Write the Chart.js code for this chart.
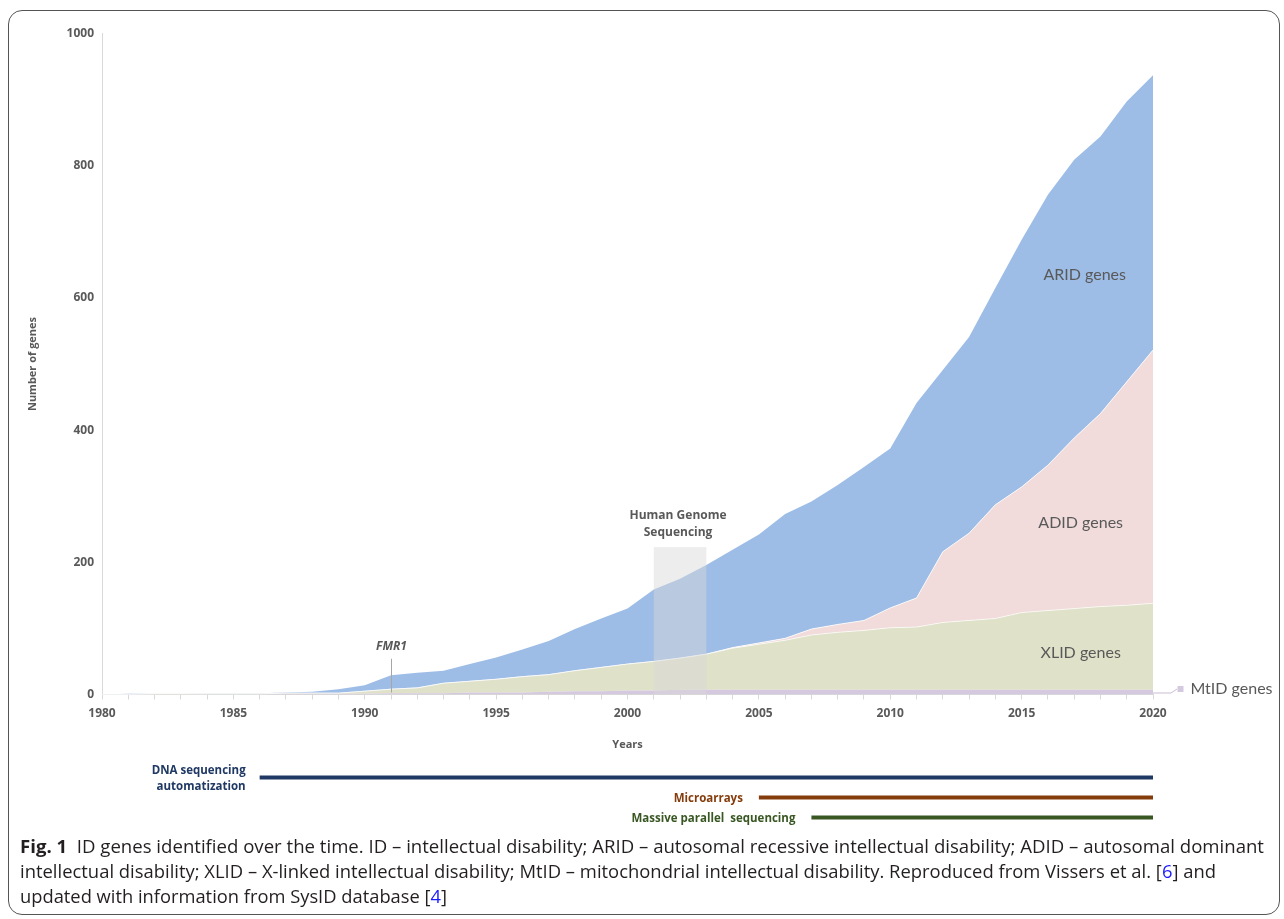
<!DOCTYPE html>
<html>
<head>
<meta charset="utf-8">
<script src="https://cdn.jsdelivr.net/npm/chart.js@4/dist/chart.umd.min.js"></script>
<style>
  html, body { margin: 0; padding: 0; background: #fff; overflow: hidden; }
  #wrap { position: relative; width: 1284px; height: 919px; }
  #frame { position: absolute; left: 8px; top: 10px; width: 1272px; height: 905px; border: 1.5px solid #555;
           border-radius: 14px; box-sizing: border-box; pointer-events: none; }
  canvas { position: absolute; left: 0; top: 0; }
</style>
</head>
<body>
<div id="wrap">
  <div id="frame"></div>
  <canvas id="c" width="1284" height="919"></canvas>
</div>
<script>
// Number of intellectual-disability genes known per year, by inheritance class
const years = [1980, 1981, 1982, 1983, 1984, 1985, 1986, 1987, 1988, 1989,
               1990, 1991, 1992, 1993, 1994, 1995, 1996, 1997, 1998, 1999,
               2000, 2001, 2002, 2003, 2004, 2005, 2006, 2007, 2008, 2009,
               2010, 2011, 2012, 2013, 2014, 2015, 2016, 2017, 2018, 2019, 2020];
const mtidGenes = [0, 0, 0, 0, 0, 0, 0, 1, 1, 1,
                   1, 2, 2, 2, 3, 3, 3, 4, 5, 5,
                   6, 6, 7, 7, 7, 7, 7, 7, 7, 7,
                   7, 7, 7, 7, 7, 7, 7, 7, 7, 7, 7];
const xlidGenes = [0, 0, 1, 1, 1, 1, 1, 1, 1, 1,
                   4, 6, 8, 15, 17, 20, 24, 26, 31, 36,
                   40, 44, 48, 54, 63, 69, 75, 83, 87, 90,
                   94, 95, 102, 105, 108, 117, 120, 123, 126, 128, 131];
const adidGenes = [0, 0, 0, 0, 0, 0, 0, 0, 0, 0,
                   0, 0, 0, 0, 0, 0, 0, 0, 0, 0,
                   0, 0, 0, 0, 1, 2, 3, 9, 12, 15,
                   30, 44, 107, 132, 172, 190, 220, 258, 292, 338, 383];
const aridGenes = [0, 1, 0, 0, 1, 1, 1, 1, 2, 6,
                   9, 21, 23, 19, 26, 33, 41, 51, 63, 74,
                   84, 109, 120, 135, 148, 164, 188, 193, 211, 232,
                   241, 295, 275, 297, 328, 374, 409, 421, 419, 424, 416];

// Genome project window and landmark gene
const genomeYears = [2001, 2003];
const genomeLevel = 223;
const fmr1Year = 1991;

// Technology eras shown under the time axis
const techLabels = [['DNA sequencing', 'automatization'], ['Microarrays'], ['Massive parallel  sequencing']];
const techStart = [1986, 2005, 2007];
const techEnd = [2020, 2020, 2020];

const GREY = '#595959';
const FONT = '"Open Sans", sans-serif';

const idx = yr => yr - years[0];

const overlay = {
  id: 'overlay',
  afterDatasetsDraw(chart) {
    const { ctx } = chart;
    const xs = chart.scales.x, ys = chart.scales.y;
    ctx.save();

    // Human genome sequencing window
    const gx0 = xs.getPixelForValue(idx(genomeYears[0]));
    const gx1 = xs.getPixelForValue(idx(genomeYears[1]));
    const gy0 = ys.getPixelForValue(genomeLevel);
    const gy1 = ys.getPixelForValue(0);
    ctx.fillStyle = 'rgba(217,217,217,0.47)';
    ctx.fillRect(gx0, gy0, gx1 - gx0, gy1 - gy0);
    ctx.fillStyle = GREY;
    ctx.font = 'bold 12px ' + FONT;
    ctx.textAlign = 'center';
    ctx.textBaseline = 'middle';
    const gc = (gx0 + gx1) / 2 - 2;
    ctx.fillText('Human Genome', gc, gy0 - 32);
    ctx.fillText('Sequencing', gc, gy0 - 15);

    // FMR1 marker
    const fx = Math.round(xs.getPixelForValue(idx(fmr1Year))) + 0.5;
    const fTop = ys.getPixelForValue(54);
    ctx.strokeStyle = '#a6a6a6';
    ctx.lineWidth = 1;
    ctx.beginPath();
    ctx.moveTo(fx, fTop);
    ctx.lineTo(fx, ys.getPixelForValue(0) - 2);
    ctx.stroke();
    ctx.font = 'italic bold 12px ' + FONT;
    ctx.fillStyle = GREY;
    ctx.fillText('FMR1', fx, fTop - 12);

    // Series names inside the areas
    ctx.font = '16px Lato, sans-serif';
    ctx.fillStyle = GREY;
    const lx = xs.getPixelForValue(idx(2017) + 0.4);
    ctx.fillText('ARID genes', lx, ys.getPixelForValue(635));
    ctx.fillText('ADID genes', lx - 4, ys.getPixelForValue(259));
    ctx.fillText('XLID genes', lx - 4, ys.getPixelForValue(63));

    // MtID label with leader line
    const last = years.length - 1;
    const xr = xs.getPixelForValue(last);
    const yb = ys.getPixelForValue(0) - 1.5;
    ctx.strokeStyle = '#c9bdd4';
    ctx.beginPath();
    ctx.moveTo(xr, yb);
    ctx.lineTo(xr + 18, yb);
    ctx.lineTo(xr + 24, yb - 4);
    ctx.stroke();
    ctx.fillStyle = '#d5c9df';
    ctx.fillRect(xr + 24.5, yb - 7, 6, 6);
    ctx.fillStyle = GREY;
    ctx.textAlign = 'left';
    ctx.fillText('MtID genes', xr + 37.5, yb - 4);

    // Technology eras
    const techColors = ['#1f3864', '#843c0c', '#385723'];
    const techY = [777.5, 797.5, 817.5];
    ctx.font = 'bold 11.5px ' + FONT;
    ctx.textAlign = 'right';
    techLabels.forEach((lab, i) => {
      const x0 = xs.getPixelForValue(idx(techStart[i]));
      const x1 = xs.getPixelForValue(idx(techEnd[i]));
      ctx.strokeStyle = techColors[i];
      ctx.lineWidth = 4;
      ctx.beginPath();
      ctx.moveTo(x0, techY[i]);
      ctx.lineTo(x1, techY[i]);
      ctx.stroke();
      ctx.fillStyle = techColors[i];
      if (lab.length === 2) {
        ctx.fillText(lab[0], x0 - 14, techY[i] - 7);
        ctx.fillText(lab[1], x0 - 14, techY[i] + 9);
      } else {
        ctx.fillText(lab[0], x0 - 16, techY[i] + 1);
      }
    });

    // Figure caption (each line set to its own measure)
    const body = '#231f20', link = '#1a1aff';
    const caption = [
      [{ t: 'Fig. 1', b: true }, { t: '  ID genes identified over the time. ID \u2013 intellectual disability; ARID \u2013 autosomal recessive intellectual disability; ADID \u2013 autosomal dominant' }],
      [{ t: 'intellectual disability; XLID \u2013 X-linked intellectual disability; MtID \u2013 mitochondrial intellectual disability. Reproduced from Vissers et al. [' }, { t: '6', c: link }, { t: '] and' }],
      [{ t: 'updated with information from SysID database [' }, { t: '4', c: link }, { t: ']' }]
    ];
    const lineEnds = [1264, 1216, 447];
    const segW = g => { ctx.font = (g.b ? 'bold ' : '') + '18px ' + FONT; return ctx.measureText(g.t).width; };
    ctx.textBaseline = 'alphabetic';
    ctx.textAlign = 'left';
    caption.forEach((line, i) => {
      const natural = line.reduce((s, g) => s + segW(g), 0);
      const sx = (lineEnds[i] - 20) / natural;
      ctx.save();
      ctx.translate(20, 853 + 25 * i);
      ctx.scale(sx, 1);
      let x = 0;
      line.forEach(g => {
        const w = segW(g);
        ctx.fillStyle = g.c || body;
        ctx.fillText(g.t, x, 0);
        x += w;
      });
      ctx.restore();
    });

    ctx.restore();
  }
};

const area = (label, data, color, fill, border) => ({
  label, data, backgroundColor: color, fill,
  borderColor: border || 'rgba(0,0,0,0)', borderWidth: border ? 1 : 0,
  pointRadius: 0, tension: 0
});

new Chart(document.getElementById('c').getContext('2d'), {
  type: 'line',
  data: {
    labels: years,
    datasets: [
      area('MtID genes', mtidGenes, '#d5c9df', 'origin'),
      area('XLID genes', xlidGenes, '#dfe1c8', '-1', 'rgba(255,255,255,0.7)'),
      area('ADID genes', adidGenes, '#f1dbdb', '-1', 'rgba(255,255,255,0.8)'),
      area('ARID genes', aridGenes, '#9dbde6', '-1')
    ]
  },
  options: {
    responsive: false,
    animation: false,
    layout: { padding: { left: 0, right: 131, top: 33.5, bottom: 164.5 } },
    plugins: { legend: { display: false }, tooltip: { enabled: false } },
    scales: {
      x: {
        type: 'category',
        grid: { drawOnChartArea: false, drawTicks: true, tickLength: 5, color: '#d9d9d9' },
        border: { color: '#d9d9d9' },
        ticks: {
          autoSkip: false, maxRotation: 0, padding: 7, color: GREY,
          font: { family: FONT, size: 12, weight: 'bold' },
          callback: (v, i) => (years[i] % 5 === 0 ? String(years[i]) : '')
        },
        title: { display: true, text: 'Years', color: GREY, font: { family: FONT, size: 11, weight: 'bold' }, padding: { top: 0, bottom: 3 } },
        afterFit: s => { s.height = 60; }
      },
      y: {
        stacked: true, min: 0, max: 1000,
        grid: { display: false, drawTicks: false },
        border: { display: true, color: '#d9d9d9' },
        ticks: { stepSize: 200, padding: 8, color: GREY, font: { family: FONT, size: 12, weight: 'bold' },
                 callback: v => String(v) },
        title: { display: true, text: 'Number of genes', color: GREY, font: { family: FONT, size: 11, weight: 'bold' }, padding: { top: 26, bottom: 0 } },
        afterFit: s => { s.width = 102; }
      }
    }
  },
  plugins: [overlay]
});
</script>
</body>
</html>
